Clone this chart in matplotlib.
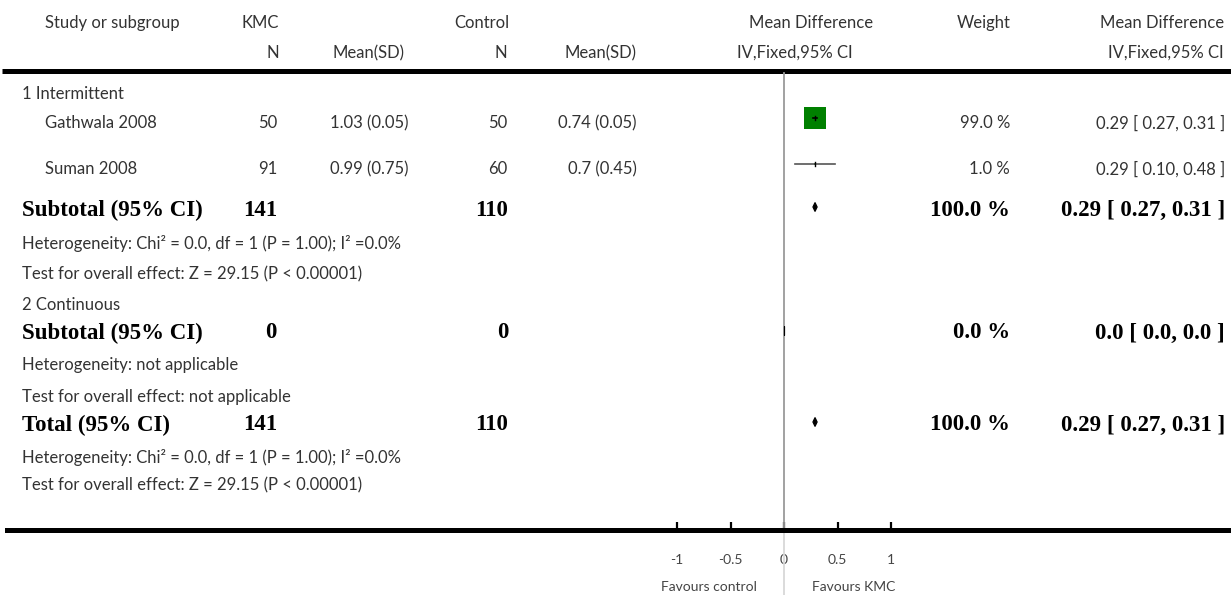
import matplotlib
matplotlib.use("Agg")
import matplotlib.pyplot as plt
from matplotlib.patches import Rectangle, Polygon

# --- data ---
studies = ["Gathwala 2008", "Suman 2008"]
kmc_n = [50, 91]
kmc_mean = [1.03, 0.99]
kmc_sd = [0.05, 0.75]
ctrl_n = [50, 60]
ctrl_mean = [0.74, 0.7]
ctrl_sd = [0.05, 0.45]
md = [0.29, 0.29]
md_lo = [0.27, 0.10]
md_hi = [0.31, 0.48]
weight = [99.0, 1.0]

# subtotal 1, subtotal 2, total
sum_labels = ["Subtotal (95% CI)", "Subtotal (95% CI)", "Total (95% CI)"]
sum_kmc_n = [141, 0, 141]
sum_ctrl_n = [110, 0, 110]
sum_md = [0.29, 0.0, 0.29]
sum_lo = [0.27, 0.0, 0.27]
sum_hi = [0.31, 0.0, 0.31]
sum_weight = [100.0, 0.0, 100.0]

het_text = ["Heterogeneity: Chi\u00b2 = 0.0, df = 1 (P = 1.00); I\u00b2 =0.0%",
            "Heterogeneity: not applicable",
            "Heterogeneity: Chi\u00b2 = 0.0, df = 1 (P = 1.00); I\u00b2 =0.0%"]
eff_text = ["Test for overall effect: Z = 29.15 (P < 0.00001)",
            "Test for overall effect: not applicable",
            "Test for overall effect: Z = 29.15 (P < 0.00001)"]
subgroups = ["1 Intermittent", "2 Continuous"]

xticks = [-1, -0.5, 0, 0.5, 1]
xtick_labels = ["-1", "-0.5", "0", "0.5", "1"]

# --- layout (pixels) ---
W, H = 1231, 595
X0 = 784      # pixel of MD = 0
PX = 107      # pixels per MD unit
AXIS_Y = 530

reg = dict(family="Lato", size=12, color="#333333")
bold = dict(family="Liberation Serif", weight="bold", size=16.5, color="black")


def fmt_ci(m, lo, hi):
    if m == 0 and lo == 0 and hi == 0:
        return "0.0 [ 0.0, 0.0 ]"
    return f"{m:.2f} [ {lo:.2f}, {hi:.2f} ]"


fig = plt.figure(figsize=(W / 100, H / 100), dpi=100)
tab = fig.add_axes([0, 0, 1, 1])
tab.set_xlim(0, W)
tab.set_ylim(H, 0)
tab.axis("off")

fa = fig.add_axes([0, 0, 1, 1], facecolor="none")
fa.set_xlim((0 - X0) / PX, (W - X0) / PX)
fa.set_ylim(H, 0)

# header
tab.text(45, 23, "Study or subgroup", va="center", ha="left", **reg)
tab.text(279, 23, "KMC", va="center", ha="right", **reg)
tab.text(509, 23, "Control", va="center", ha="right", **reg)
tab.text(873, 23, "Mean Difference", va="center", ha="right", **reg)
tab.text(1011, 23, "Weight", va="center", ha="right", **reg)
tab.text(1224, 23, "Mean Difference", va="center", ha="right", **reg)
tab.text(279, 53, "N", va="center", ha="right", **reg)
tab.text(405, 53, "Mean(SD)", va="center", ha="right", **reg)
tab.text(507, 53, "N", va="center", ha="right", **reg)
tab.text(637, 53, "Mean(SD)", va="center", ha="right", **reg)
tab.text(737, 53, "IV,Fixed,95% CI", va="center", ha="left", **reg)
tab.text(1224, 53, "IV,Fixed,95% CI", va="center", ha="right", **reg)
tab.plot([2, W], [71, 71], color="black", lw=3.6, solid_capstyle="butt")

# zero line
fa.plot([0, 0], [73, AXIS_Y], color="#9a9a9a", lw=1.3)
fa.plot([0, 0], [AXIS_Y, H], color="#d8d8d8", lw=1.3)

# subgroup 1 studies
tab.text(22, 94, subgroups[0], va="center", ha="left", **reg)
study_y = [123, 169]
for i, y in enumerate(study_y):
    tab.text(45, y, studies[i], va="center", ha="left", **reg)
    tab.text(277, y, f"{kmc_n[i]}", va="center", ha="right", **reg)
    tab.text(408, y, f"{kmc_mean[i]:g} ({kmc_sd[i]:g})", va="center", ha="right", **reg)
    tab.text(507, y, f"{ctrl_n[i]}", va="center", ha="right", **reg)
    tab.text(637, y, f"{ctrl_mean[i]:g} ({ctrl_sd[i]:g})", va="center", ha="right", **reg)
    tab.text(1010, y, f"{weight[i]:.1f} %", va="center", ha="right", **reg)
    tab.text(1225, y, fmt_ci(md[i], md_lo[i], md_hi[i]), va="center", ha="right", **reg)
    side = 22 * (weight[i] / 99.0) ** 0.5
    fa.add_patch(Rectangle((md[i] - side / 2 / PX, y - 5 - side / 2), side / PX, side,
                           facecolor="#008000", edgecolor="none", zorder=2))
    fa.plot([md_lo[i], md_hi[i]], [y - 5, y - 5], color="black" if weight[i] > 50 else "#555555",
            lw=1.2, zorder=3)
    fa.plot([md[i], md[i]], [y - 7, y - 3], color="black", lw=1, zorder=3)

# summary rows
sum_y = [210, 333, 425]
het_y = [243, 365, 457]
eff_y = [274, 397, 485]
for j, y in enumerate(sum_y):
    tab.text(22, y, sum_labels[j], va="center", ha="left", **bold)
    tab.text(277, y, f"{sum_kmc_n[j]}", va="center", ha="right", **bold)
    tab.text(508, y, f"{sum_ctrl_n[j]}", va="center", ha="right", **bold)
    tab.text(1010, y, f"{sum_weight[j]:.1f} %", va="center", ha="right", **bold)
    tab.text(1225, y, fmt_ci(sum_md[j], sum_lo[j], sum_hi[j]), va="center", ha="right", **bold)
    tab.text(22, het_y[j], het_text[j], va="center", ha="left", **reg)
    tab.text(22, eff_y[j], eff_text[j], va="center", ha="left", **reg)
    dy = 4.5
    fa.add_patch(Polygon([(sum_lo[j], y - 3), (sum_md[j], y - 3 - dy),
                          (sum_hi[j], y - 3), (sum_md[j], y - 3 + dy)],
                         closed=True, facecolor="black", edgecolor="black", lw=0.8, zorder=3))

tab.text(22, 305, subgroups[1], va="center", ha="left", **reg)

# axis
for s in ["top", "left", "right"]:
    fa.spines[s].set_visible(False)
fa.spines["bottom"].set_position(("data", AXIS_Y))
fa.spines["bottom"].set_linewidth(3.6)
fa.spines["bottom"].set_bounds((7 - X0) / PX, (W - X0) / PX)
fa.set_yticks([])
fa.set_xticks(xticks)
fa.set_xticklabels(xtick_labels, family="Lato", size=10, color="#444444")
fa.tick_params(axis="x", direction="in", length=6, width=1.6, pad=17)

tab.text(X0 - 27, 587, "Favours control", va="center", ha="right",
         family="Lato", size=10, color="#444444")
tab.text(X0 + 28, 587, "Favours KMC", va="center", ha="left",
         family="Lato", size=10, color="#444444")

fig.savefig("out.png", dpi=100)
